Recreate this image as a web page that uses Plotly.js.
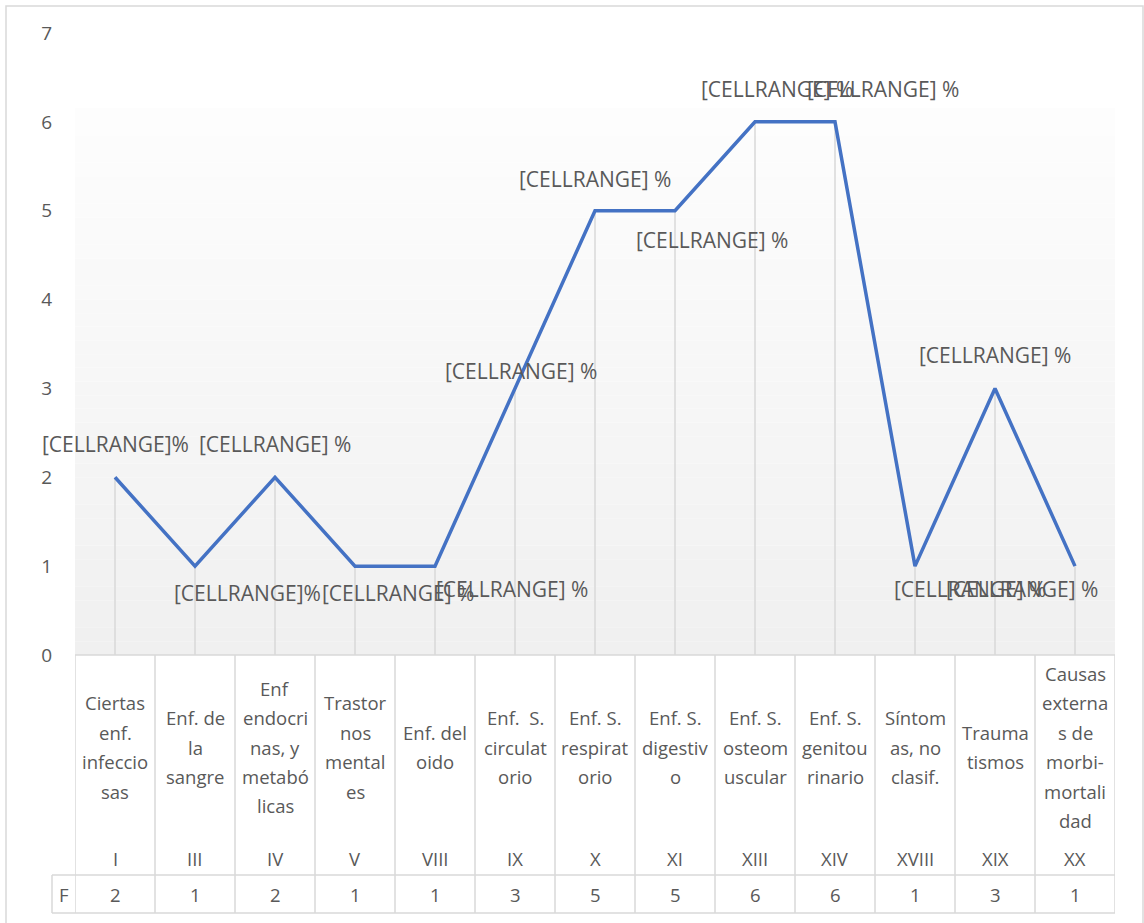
<!DOCTYPE html>
<html>
<head>
<meta charset="utf-8">
<script src="https://cdn.plot.ly/plotly-3.0.1.min.js"></script>
<style>html,body{margin:0;padding:0;background:#fff;}#chart{width:1144px;height:923px;}</style>
</head>
<body>
<div id="chart"></div>
<script>
// ---- data ----
var categoryLines = [
  ["Ciertas", "enf.", "infeccio", "sas"],
  ["Enf. de", "la", "sangre"],
  ["Enf", "endocri", "nas, y", "metabó", "licas"],
  ["Trastor", "nos", "mental", "es"],
  ["Enf. del", "oido"],
  ["Enf.  S.", "circulat", "orio"],
  ["Enf. S.", "respirat", "orio"],
  ["Enf. S.", "digestiv", "o"],
  ["Enf. S.", "osteom", "uscular"],
  ["Enf. S.", "genitou", "rinario"],
  ["Síntom", "as, no", "clasif."],
  ["Trauma", "tismos"],
  ["Causas", "externa", "s de", "morbi-", "mortali", "dad"]
];
var romanCodes = ["I", "III", "IV", "V", "VIII", "IX", "X", "XI", "XIII", "XIV", "XVIII", "XIX", "XX"];
var frequencies = [2, 1, 2, 1, 1, 3, 5, 5, 6, 6, 1, 3, 1];
var dataLabels = ["[CELLRANGE]%", "[CELLRANGE]%", "[CELLRANGE] %", "[CELLRANGE] %", "[CELLRANGE] %",
  "[CELLRANGE] %", "[CELLRANGE] %", "[CELLRANGE] %", "[CELLRANGE] %", "[CELLRANGE] %",
  "[CELLRANGE] %", "[CELLRANGE] %", "[CELLRANGE] %"];
var rowLabel = "F";
var yTicks = [0, 1, 2, 3, 4, 5, 6, 7];

// ---- label offsets (px) ----
var labelShiftX = [0, 52, 0, 43, 77, 6, 0, 37, 22, 48, 55, 0, -53];
var labelShiftY = [33, -27, 33, -27, -23, 17, 32, -29, 33, 33, -23, 33, -23];

// ---- geometry ----
var W = 1144, H = 923;
var PL = 75, PR = 1115, PT = 33, PB = 655;
function px2x(px) { return (px - PL) / (PR - PL); }
function px2y(py) { return (PB - py) / (PB - PT); }
var n = frequencies.length;
var grid = '#D9D9D9';
var txt = '#595959';
var font = 'Open Sans, Noto Sans, sans-serif';

var xs = frequencies.map(function (v, i) { return i; });

var shapes = [];
// gradient background of plot area
var gTop = (PB - 108) / ((PB - PT) / 7);
var bands = 40;
for (var b = 0; b < bands; b++) {
  var t = b / (bands - 1);
  var c = Math.round(240 + (253 - 240) * t);
  shapes.push({type: 'rect', layer: 'below', xref: 'x', yref: 'y',
    x0: -0.5, x1: n - 0.5, y0: gTop * b / bands, y1: gTop * (b + 1) / bands,
    line: {width: 0}, fillcolor: 'rgb(' + c + ',' + c + ',' + c + ')'});
}
// drop lines
xs.forEach(function (x, i) {
  shapes.push({type: 'line', layer: 'below', xref: 'x', yref: 'y', x0: x, x1: x, y0: 0, y1: frequencies[i],
    line: {color: grid, width: 1.5}});
});
// outer border
shapes.push({type: 'rect', xref: 'paper', yref: 'paper', x0: px2x(6), x1: px2x(1143), y0: px2y(940), y1: px2y(6),
  line: {color: '#D9D9D9', width: 1.5}, fillcolor: 'rgba(0,0,0,0)'});
// table lines
var tTop = 655, tMid = 875, tBot = 913, fLeft = 52;
function hline(y, xa, xb) {
  shapes.push({type: 'line', xref: 'paper', yref: 'paper', x0: px2x(xa), x1: px2x(xb), y0: px2y(y), y1: px2y(y),
    line: {color: grid, width: 1.5}});
}
hline(tTop, PL, PR);
hline(tMid, fLeft, PR);
hline(tBot, fLeft, PR);
shapes.push({type: 'line', xref: 'paper', yref: 'paper', x0: px2x(fLeft), x1: px2x(fLeft), y0: px2y(tMid), y1: px2y(tBot),
  line: {color: grid, width: 1.5}});
for (var k = 0; k <= n; k++) {
  shapes.push({type: 'line', xref: 'x', yref: 'paper', x0: k - 0.5, x1: k - 0.5, y0: px2y(tTop), y1: px2y(tBot),
    line: {color: grid, width: 1.5}});
}

var annotations = [];
// data labels
xs.forEach(function (x, i) {
  annotations.push({xref: 'x', yref: 'y', x: x, y: frequencies[i], text: dataLabels[i], showarrow: false,
    xshift: labelShiftX[i], yshift: labelShiftY[i], xanchor: 'center', yanchor: 'middle',
    font: {family: font, size: 21, color: txt}});
});
// table text
var lineGap = 29.4, blockCenter = 747;
categoryLines.forEach(function (lines, i) {
  lines.forEach(function (s, j) {
    var py = blockCenter + (j - (lines.length - 1) / 2) * lineGap;
    annotations.push({xref: 'x', yref: 'paper', x: i, y: px2y(py), text: s, showarrow: false,
      xanchor: 'center', yanchor: 'middle', font: {family: font, size: 18.5, color: txt}});
  });
  annotations.push({xref: 'x', yref: 'paper', x: i, y: px2y(858), text: romanCodes[i], showarrow: false,
    xanchor: 'center', yanchor: 'middle', font: {family: font, size: 18.5, color: txt}});
  annotations.push({xref: 'x', yref: 'paper', x: i, y: px2y(894), text: String(frequencies[i]), showarrow: false,
    xanchor: 'center', yanchor: 'middle', font: {family: font, size: 18.5, color: txt}});
});
annotations.push({xref: 'paper', yref: 'paper', x: px2x(63.5), y: px2y(894), text: rowLabel, showarrow: false,
  xanchor: 'center', yanchor: 'middle', font: {family: font, size: 18.5, color: txt}});

var trace = {
  type: 'scatter', mode: 'lines', x: xs, y: frequencies,
  line: {color: '#4472C4', width: 3.5}, hoverinfo: 'skip', cliponaxis: false
};

var layout = {
  width: W, height: H,
  margin: {l: PL, r: W - PR, t: PT, b: H - PB, pad: 0},
  paper_bgcolor: '#ffffff', plot_bgcolor: 'rgba(0,0,0,0)',
  showlegend: false,
  xaxis: {range: [-0.5, n - 0.5], showticklabels: false, showgrid: false, zeroline: false, showline: false, ticks: '', fixedrange: true},
  yaxis: {range: [0, 7], tickvals: yTicks, ticktext: yTicks.map(String), showgrid: false, zeroline: false, showline: false,
    ticks: '', ticklabelstandoff: 22, tickfont: {family: font, size: 19, color: txt}, fixedrange: true},
  shapes: shapes,
  annotations: annotations
};

Plotly.newPlot('chart', [trace], layout, {displayModeBar: false, staticPlot: true});
</script>
</body>
</html>
